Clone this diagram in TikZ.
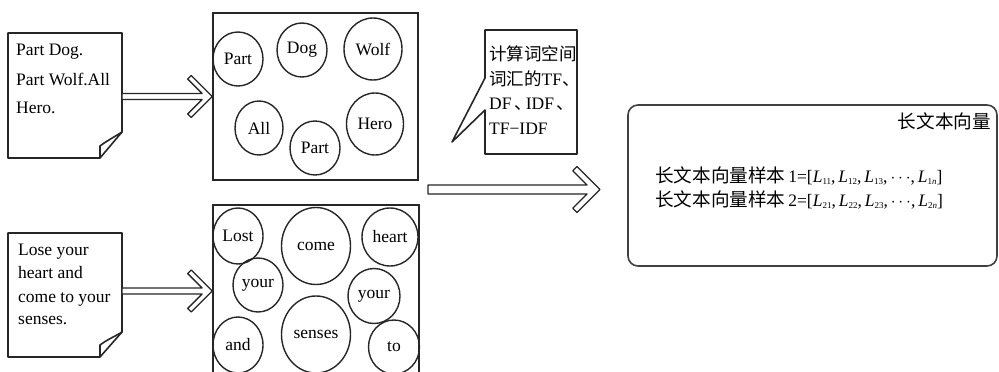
\documentclass[tikz,border=0pt]{standalone}
\usepackage{fontspec}
\setmainfont{Liberation Serif}
\newfontfamily\cjk{Noto Sans CJK SC}
\usetikzlibrary{calc,shapes.geometric}
\tikzset{
 frame/.style={draw=black!85, line width=1.6pt},
 bubble/.style={ellipse, draw=black!85, line width=1.4pt, inner sep=0pt, font=\fontsize{17.5}{20}\selectfont},
 docline/.style={draw=black!85, line width=1.6pt, line join=round},
 harrow/.style={draw=black!85, line width=1.3pt, line join=round, fill=white},
 txt/.style={font=\fontsize{17.5}{20}\selectfont, inner sep=0pt, anchor=base west},
}
\newcommand{\hollowarrow}[5]{%
 \draw[harrow] let \p1=(#1), \p2=(#2) in
 (\x1,\y2+#3) -- ({\x2-1.4142*#5-#3},\y2+#3) -- ({\x2-#4-0.7071*#5},{\y2+#4-0.7071*#5}) -- (\x2-#4,\y2+#4) -- (\x2,\y2) -- (\x2-#4,\y2-#4) -- ({\x2-#4-0.7071*#5},{\y2-#4+0.7071*#5}) -- ({\x2-1.4142*#5-#3},\y2-#3) -- (\x1,\y2-#3) -- cycle;}
\newcommand{\Lsub}[1]{\textit{L}\raisebox{-0.3ex}{\fontsize{9}{9}\selectfont #1}}
\newcommand{\bigcjk}[1]{{\cjk\fontsize{18.6}{20}\selectfont #1}}
\newcommand{\dun}{\makebox[0.65em][l]{\cjk 、}}
\begin{document}
\begin{tikzpicture}[x=1pt,y=-1pt]
\useasboundingbox (0,0) rectangle (999,372);
% documents
\draw[docline] (8,33) -- (122,33) -- (122,132) -- (100,158) -- (8,158) -- cycle;
\draw[docline] (100,158) -- (100,146) .. controls (108,140) and (116,136) .. (122,132);
\coordinate (d1e) at (122,97);
\node[txt] (t11) at (16,55) {Part Dog.};
\node[txt] (t12) at (16,85) {Part Wolf.All};
\node[txt] (t13) at (16,113) {Hero.};
\draw[docline] (8,233) -- (122,233) -- (122,332) -- (100,357) -- (8,357) -- cycle;
\draw[docline] (100,357) -- (100,345) .. controls (108,339) and (116,336) .. (122,332);
\coordinate (d2e) at (122,291);
\node[txt] (t21) at (18,255) {Lose your};
\node[txt] (t22) at (18,278) {heart and};
\node[txt] (t23) at (18,302) {come to your};
\node[txt] (t24) at (18,324) {senses.};
% word boxes
\node[frame, minimum width=205pt, minimum height=167pt, inner sep=0pt] (b1) at (315.5,96.5) {};
\node[frame, minimum width=206pt, minimum height=180pt, inner sep=0pt] (b2) at (316,295) {};
\node[bubble, minimum width=50pt, minimum height=54pt] (w1) at (238,59) {Part};
\node[bubble, minimum width=50pt, minimum height=54pt] (w2) at (302,50) {Dog};
\node[bubble, minimum width=58pt, minimum height=62pt] (w3) at (373,49) {Wolf};
\node[bubble, minimum width=48pt, minimum height=54pt] (w4) at (259,128) {All};
\node[bubble, minimum width=50pt, minimum height=54pt] (w5) at (315,148) {Part};
\node[bubble, minimum width=57pt, minimum height=62pt] (w6) at (375,124) {Hero};
\node[bubble, minimum width=50pt, minimum height=56pt] (v1) at (238,236) {Lost};
\node[bubble, minimum width=69pt, minimum height=77pt] (v2) at (316,246) {come};
\node[bubble, minimum width=56pt, minimum height=58pt] (v3) at (390,237) {heart};
\node[bubble, minimum width=50pt, minimum height=54pt] (v4) at (258,285) {your};
\node[bubble, minimum width=52pt, minimum height=55pt] (v5) at (374,296) {your};
\node[bubble, minimum width=50pt, minimum height=56pt] (v6) at (238,345) {and};
\node[bubble, minimum width=69pt, minimum height=77pt] (v7) at (316,334.5) {senses};
\node[bubble, minimum width=51pt, minimum height=54pt] (v8) at (394,347) {to};
% arrows
\hollowarrow{d1e}{b1.west}{3pt}{21pt}{5pt}
\hollowarrow{d2e}{b2.west |- d2e}{3pt}{21pt}{5pt}
\coordinate (m1) at (428,189.5);
\coordinate (m2) at (600,189.5);
\hollowarrow{m1}{m2}{4.5pt}{23pt}{6pt}
% callout
\draw[docline] (485,30) -- (577,30) -- (577,154) -- (485,154) -- (485,110) -- (452,142) -- (485,78) -- cycle;
\node[txt] (c1) at (489,60.5) {\cjk 计算词空间};
\node[txt] (c2) at (489,85) {{\cjk 词汇的}TF{\cjk 、}};
\node[txt] (c3) at (489,109.5) {DF\,\dun IDF\,\dun};
\node[txt] (c4) at (489,134) {TF−IDF};
% vector box
\node[frame, draw=black!75, rounded corners=10pt, minimum width=369pt, minimum height=161pt, inner sep=0pt] (vec) at (812.5,185.5) {};
\node[txt, anchor=base east] (vt) at (991,128) {\bigcjk{长文本向量}};
\node[txt] (l1) at (655,182) {\bigcjk{长文本向量样本}\,1=[\Lsub{11},\,\Lsub{12},\,\Lsub{13},\,$\cdots$,\,\Lsub{1\textit{n}}]};
\node[txt] (l2) at (655,206) {\bigcjk{长文本向量样本}\,2=[\Lsub{21},\,\Lsub{22},\,\Lsub{23},\,$\cdots$,\,\Lsub{2\textit{n}}]};
\end{tikzpicture}
\end{document}
